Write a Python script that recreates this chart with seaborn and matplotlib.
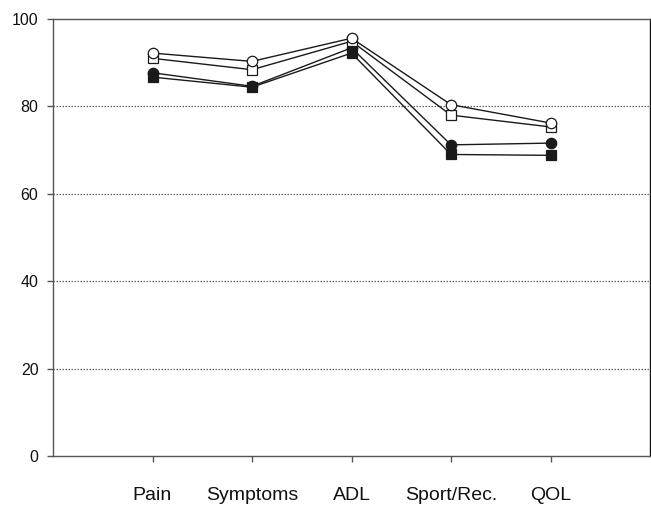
import matplotlib
matplotlib.use("Agg")
import matplotlib.pyplot as plt
import seaborn as sns
import pandas as pd

categories = ["Pain", "Symptoms", "ADL", "Sport/Rec.", "QOL"]
series_names = ["filled square", "filled circle", "open square", "open circle"]
filled_square = [86.7, 84.4, 92.2, 69.0, 68.8]
filled_circle = [87.7, 84.6, 93.4, 71.2, 71.6]
open_square = [91.0, 88.4, 94.9, 78.0, 75.3]
open_circle = [92.2, 90.3, 95.6, 80.4, 76.2]
y_ticks = [0, 20, 40, 60, 80, 100]

sns.set_theme(style="white")
plt.rcParams["font.family"] = ["Liberation Sans", "DejaVu Sans"]

fig = plt.figure(figsize=(6.51, 5.07), dpi=100)
ax = fig.add_axes([53 / 651, 1 - 456 / 507, (650 - 53) / 651, (456 - 19) / 507])

rows = []
for name, vals in zip(series_names, [filled_square, filled_circle, open_square, open_circle]):
    for i, v in enumerate(vals):
        rows.append({"series": name, "pos": i, "value": v})
df = pd.DataFrame(rows)

styles = {
    "filled square": dict(marker="s", markerfacecolor="#1a1a1a"),
    "filled circle": dict(marker="o", markerfacecolor="#1a1a1a"),
    "open square": dict(marker="s", markerfacecolor="white"),
    "open circle": dict(marker="o", markerfacecolor="white"),
}

for y in [20, 40, 60, 80]:
    ax.axhline(y, color="#666666", linewidth=0.9, linestyle=(0, (1.2, 1.2)), zorder=1)

for name in series_names:
    sub = df[df["series"] == name]
    sns.lineplot(data=sub, x="pos", y="value", ax=ax, color="#1a1a1a", linewidth=1.0,
                 markersize=7.5, markeredgecolor="#1a1a1a", markeredgewidth=0.9,
                 zorder=3, **styles[name])

ax.set_xlim(-1, 5)
ax.set_ylim(0, 100)
ax.set_xticks(range(len(categories)))
ax.set_xticklabels(categories)
ax.set_yticks(y_ticks)
ax.set_xlabel("")
ax.set_ylabel("")

for side in ["left", "bottom", "top"]:
    ax.spines[side].set_color("#555555")
    ax.spines[side].set_linewidth(1.0)
ax.spines["right"].set_color("#111111")
ax.spines["right"].set_linewidth(1.0)

ax.tick_params(axis="x", direction="out", length=4, width=1, color="#555555",
               pad=18.5, labelsize=14, labelcolor="#111111", bottom=True)
ax.tick_params(axis="y", direction="out", length=4.5, width=1, color="#555555",
               pad=6, labelsize=11.5, labelcolor="#111111", left=True)

fig.savefig("out.png", dpi=100)
